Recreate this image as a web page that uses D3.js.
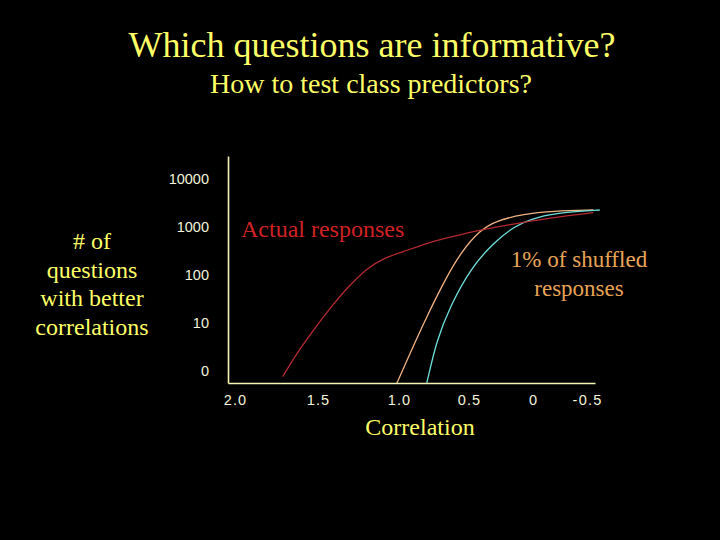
<!DOCTYPE html>
<html>
<head>
<meta charset="utf-8">
<script src="https://cdn.jsdelivr.net/npm/d3@7"></script>
<style>
  html, body { margin: 0; padding: 0; background: #000; }
  svg { display: block; }
  .serif { font-family: "Liberation Serif", "Times New Roman", Times, serif; }
  .sans { font-family: "Liberation Sans", Arial, Helvetica, sans-serif; }
</style>
</head>
<body>
<svg id="chart" width="720" height="540"></svg>
<script>
// ---- data ----
const xTickValues = [2.0, 1.5, 1.0, 0.5, 0, -0.5];
const xTickLabels = ["2.0", "1.5", "1.0", "0.5", "0", "-0.5"];
const yTickValues = [1, 10, 100, 1000, 10000];
const yTickLabels = ["0", "10", "100", "1000", "10000"];

// correlation (x) and # of questions (y) for each curve
const actualX = [1.713, 1.628, 1.528, 1.426, 1.323, 1.199, 1.097, 0.969, 0.793, 0.636, 0.414, 0.154, -0.127, -0.559];
const actualY = [0.76, 2.34, 7.15, 20.2, 52.8, 138, 223, 306, 470, 610, 866, 1155, 1518, 1986];
const shuffledAX = [1.014, 0.921, 0.802, 0.684, 0.564, 0.414, 0.284, 0.076, -0.188, -0.559];
const shuffledAY = [0.55, 2.34, 13.5, 67, 283, 866, 1352, 1866, 2154, 2260];
const shuffledBX = [0.802, 0.731, 0.636, 0.484, 0.310, 0.154, -0.034, -0.312, -0.62];
const shuffledBY = [0.55, 4.42, 21.9, 143, 457, 1015, 1640, 2054, 2260];

// ---- layout ----
const svg = d3.select("#chart");
const W = 720, H = 540;
svg.append("rect").attr("width", W).attr("height", H).attr("fill", "#000");

const x = d3.scaleLinear()
  .domain([2.04, 2.0, 1.5, 1.0, 0.5, 0, -0.5, -0.575])
  .range([228, 235, 318, 399, 469, 533, 587, 595]);
const y = d3.scaleLog()
  .domain([Math.pow(10, -0.25), Math.pow(10, 4.479)])
  .range([383, 156]);

const axisColor = "#f4f4b4";
const tickColor = "#f4f4d8";

// clip
svg.append("clipPath").attr("id", "plotclip")
  .append("rect").attr("x", 228).attr("y", 150).attr("width", 380).attr("height", 233);

// curves
const line = d3.line()
  .x(d => x(d[0])).y(d => y(d[1]))
  .curve(d3.curveBasis);

const series = [
  { xs: shuffledAX, ys: shuffledAY, color: "#f2b484" },
  { xs: shuffledBX, ys: shuffledBY, color: "#6ee0dc" },
  { xs: actualX, ys: actualY, color: "#b42a32" }
];
const g = svg.append("g").attr("clip-path", "url(#plotclip)");
series.forEach(s => {
  g.append("path")
    .datum(s.xs.map((v, i) => [v, s.ys[i]]))
    .attr("d", line)
    .attr("fill", "none")
    .attr("stroke", s.color)
    .attr("stroke-width", 1.3);
});

// axes
const xAxis = d3.axisBottom(x)
  .tickValues(xTickValues)
  .tickFormat((d, i) => xTickLabels[i])
  .tickSize(0).tickSizeOuter(0).tickPadding(12);
const gx = svg.append("g").attr("transform", "translate(0,383)").call(xAxis);
gx.attr("font-family", null).attr("font-size", null).attr("class", "sans");
gx.select(".domain").attr("stroke", axisColor).attr("stroke-width", 1.6);
gx.selectAll("text")
  .attr("fill", tickColor)
  .attr("font-size", 14.5)
  .attr("letter-spacing", 1.2);

const yAxis = d3.axisLeft(y)
  .tickValues(yTickValues)
  .tickFormat((d, i) => yTickLabels[i])
  .tickSize(0).tickSizeOuter(0).tickPadding(19);
const gy = svg.append("g").attr("transform", "translate(228,0)").call(yAxis);
gy.attr("font-family", null).attr("font-size", null).attr("class", "sans");
gy.select(".domain").attr("stroke", axisColor).attr("stroke-width", 1.6);
gy.selectAll("text")
  .attr("fill", tickColor)
  .attr("font-size", 14.5);

// texts
const yellow = "#ffff66";

svg.append("text").attr("class", "serif").attr("x", 372).attr("y", 57)
  .attr("text-anchor", "middle")
  .attr("font-size", 36).attr("fill", yellow)
  .text("Which questions are informative?");
svg.append("text").attr("class", "serif").attr("x", 371).attr("y", 93)
  .attr("text-anchor", "middle")
  .attr("font-size", 28).attr("fill", yellow)
  .text("How to test class predictors?");

const leftLines = ["# of", "questions", "with better", "correlations"];
svg.append("text").attr("class", "serif")
  .attr("font-size", 24).attr("fill", yellow)
  .attr("text-anchor", "middle")
  .selectAll("tspan").data(leftLines).join("tspan")
  .attr("x", 92).attr("y", (d, i) => 249 + i * 28.5)
  .text(d => d);

svg.append("text").attr("class", "serif").attr("x", 241).attr("y", 237)
  .attr("font-size", 24).attr("fill", "#d02222")
  .text("Actual responses");

const shufLines = ["1% of shuffled", "responses"];
svg.append("text").attr("class", "serif")
  .attr("font-size", 23).attr("fill", "#e8a456")
  .attr("text-anchor", "middle")
  .selectAll("tspan").data(shufLines).join("tspan")
  .attr("x", 579).attr("y", (d, i) => 267 + i * 29)
  .text(d => d);

svg.append("text").attr("class", "serif").attr("x", 420).attr("y", 435)
  .attr("text-anchor", "middle")
  .attr("font-size", 24).attr("fill", yellow)
  .text("Correlation");
</script>
</body>
</html>
